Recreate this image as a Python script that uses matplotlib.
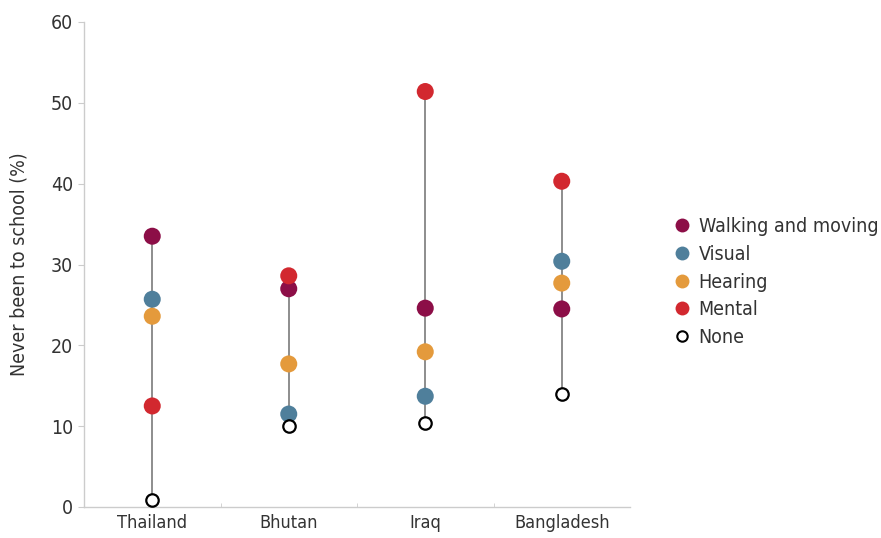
import matplotlib
matplotlib.use("Agg")
import matplotlib.pyplot as plt
from matplotlib.lines import Line2D

countries = ["Thailand", "Bhutan", "Iraq", "Bangladesh"]
walking = [33.5, 27.0, 24.6, 24.5]
visual = [25.7, 11.5, 13.7, 30.4]
hearing = [23.6, 17.7, 19.2, 27.7]
mental = [12.5, 28.6, 51.4, 40.3]
none_ = [0.9, 10.0, 10.4, 14.0]

series = [
    ("Walking and moving", walking, "#8c0e47"),
    ("Visual", visual, "#4f7f9b"),
    ("Hearing", hearing, "#e49a3c"),
    ("Mental", mental, "#d2282f"),
]

plt.rcParams['font.family'] = ['DejaVu Sans']
plt.rcParams['font.stretch'] = 'condensed'
plt.rcParams['font.weight'] = 'light'

fig = plt.figure(figsize=(8.81, 5.38), dpi=100)
ax = fig.add_axes([84/881, 1-507/538, (630-84)/881, (507-22)/538])

x = list(range(len(countries)))
for i in x:
    vals = [walking[i], visual[i], hearing[i], mental[i], none_[i]]
    ax.plot([i, i], [min(vals), max(vals)], color="#7a7a7a", lw=1.2, zorder=1)

for name, vals, col in series:
    ax.scatter(x, vals, s=150, color=col, edgecolors='none', zorder=3)
ax.scatter(x, none_, s=80, facecolor='white', edgecolors='black', linewidths=1.6, zorder=4)

ax.set_xlim(-0.5, 3.5)
ax.set_ylim(0, 60)
ax.set_yticks(range(0, 61, 10))
ax.set_xticks(x)
ax.set_xticklabels(countries)
ax.set_xticks([0.5, 1.5, 2.5], minor=True)
ax.tick_params(axis='x', which='major', length=0, labelsize=13, colors='#333333', pad=5)
ax.tick_params(axis='x', which='minor', length=3, direction='in', color='#cccccc')
ax.tick_params(axis='y', length=4, color='#cccccc', labelsize=14, labelcolor='#333333', pad=4)
for s in ['top', 'right']:
    ax.spines[s].set_visible(False)
for s in ['left', 'bottom']:
    ax.spines[s].set_color('#cccccc')
    ax.spines[s].set_linewidth(1.0)
ax.set_ylabel("Never been to school (%)", fontsize=14, color='#333333', labelpad=16)

handles = [Line2D([], [], marker='o', ls='none', markersize=10, markerfacecolor=c, markeredgecolor='none') for _, _, c in series]
handles.append(Line2D([], [], marker='o', ls='none', markersize=7.5, markerfacecolor='white', markeredgecolor='black', markeredgewidth=1.5))
labels = [n for n, _, _ in series] + ["None"]
fig.legend(handles, labels, loc='center left', bbox_to_anchor=(654/881, 1-282/538), frameon=False,
           fontsize=14, handletextpad=0.3, labelspacing=0.45, handlelength=1.1, labelcolor='#333333')

fig.savefig("out.png", dpi=100)
